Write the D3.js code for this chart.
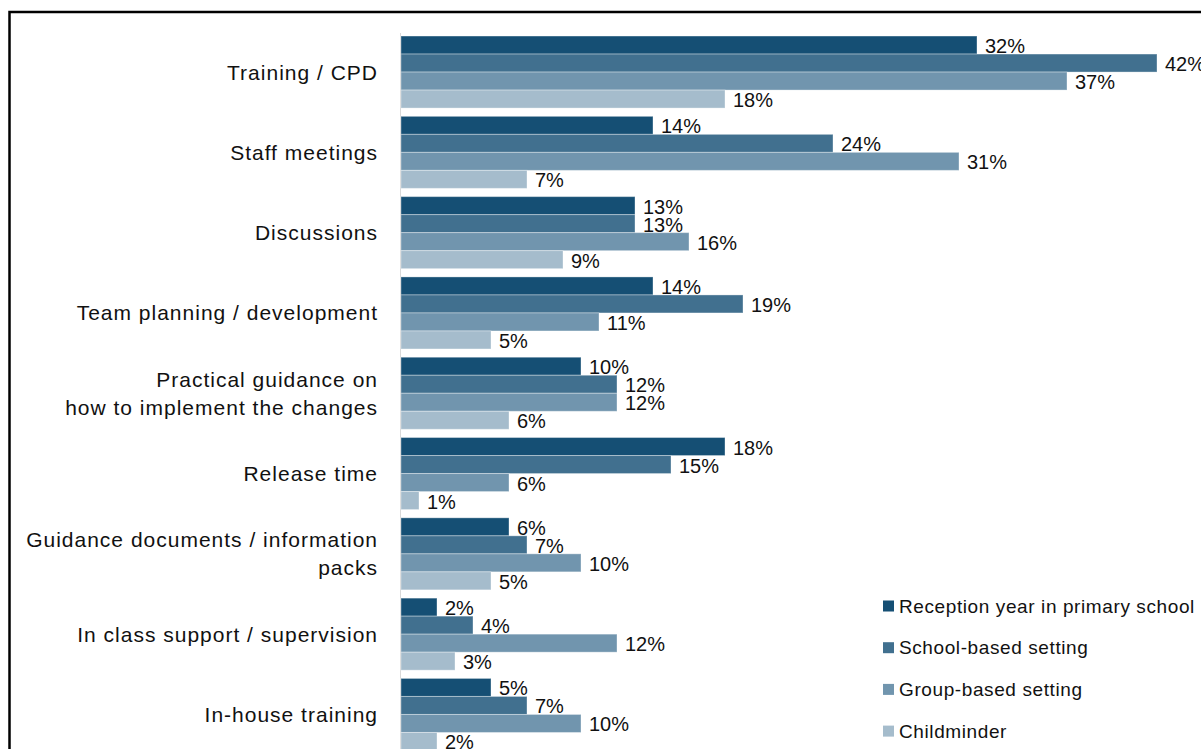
<!DOCTYPE html>
<html>
<head>
<meta charset="utf-8">
<script src="https://cdn.jsdelivr.net/npm/d3@7"></script>
<style>
  body { margin: 0; background: #fff; }
  text { font-family: "Liberation Sans", Arial, sans-serif; fill: #111; }
</style>
</head>
<body>
<div id="chart"></div>
<script>
// categories (label lines) and series
var categories = [
  ["Training / CPD"],
  ["Staff meetings"],
  ["Discussions"],
  ["Team planning / development"],
  ["Practical guidance on", "how to implement the changes"],
  ["Release time"],
  ["Guidance documents / information", "packs"],
  ["In class support / supervision"],
  ["In-house training"]
]
var seriesNames = ["Reception year in primary school", "School-based setting", "Group-based setting", "Childminder"]
var reception = [32, 14, 13, 14, 10, 18, 6, 2, 5]
var schoolBased = [42, 24, 13, 19, 12, 15, 7, 4, 7]
var groupBased = [37, 31, 16, 11, 12, 6, 10, 12, 10]
var childminder = [18, 7, 9, 5, 6, 1, 5, 3, 2]
var colors = ["#154f74", "#41708f", "#7195ae", "#a5bccc"]

var allSeries = [reception, schoolBased, groupBased, childminder]
var W = 1201, H = 749

var svg = d3.select("#chart").append("svg")
  .attr("width", W)
  .attr("height", H)

// frame (cut off at right and bottom like the original)
svg.append("path")
  .attr("d", "M9.5," + (H + 5) + " V12 H" + (W + 5))
  .attr("fill", "none")
  .attr("stroke", "#000")
  .attr("stroke-width", 2.5)

var x = d3.scaleLinear()
  .domain([0, 42])
  .range([401, 401 + 42 * 18])

var y = d3.scaleBand()
  .domain(d3.range(categories.length))
  .range([31.9, 31.9 + categories.length * 80.3])
  .paddingInner(0.103)
  .paddingOuter(0.0515)

var ySub = d3.scaleBand()
  .domain(d3.range(seriesNames.length))
  .range([0, y.bandwidth()])

// axis line
svg.append("line")
  .attr("x1", x(0) - 0.5).attr("x2", x(0) - 0.5)
  .attr("y1", 33).attr("y2", H)
  .attr("stroke", "#d9d9d9")
  .attr("stroke-width", 1)

var groups = svg.selectAll("g.grp")
  .data(categories)
  .enter()
  .append("g")
  .attr("class", "grp")
  .attr("transform", function (d, i) { return "translate(0," + y(i) + ")"; })

groups.each(function (cat, ci) {
  var g = d3.select(this)
  allSeries.forEach(function (s, si) {
    g.append("rect")
      .attr("x", x(0))
      .attr("y", ySub(si))
      .attr("width", x(s[ci]) - x(0))
      .attr("height", ySub.bandwidth())
      .attr("fill", colors[si])
      .attr("stroke", "rgba(255,255,255,0.35)")
      .attr("stroke-width", 1)
    g.append("text")
      .attr("x", x(s[ci]) + 8)
      .attr("y", ySub(si) + ySub.bandwidth() / 2 + 1)
      .attr("dominant-baseline", "central")
      .attr("font-size", 20)
      .text(s[ci] + "%")
  })
  // category label
  var lh = 28
  var lab = g.append("text")
    .attr("x", 378)
    .attr("text-anchor", "end")
    .attr("font-size", 21)
    .attr("letter-spacing", "1px")
  cat.forEach(function (line, li) {
    lab.append("tspan")
      .attr("x", 378)
      .attr("y", y.bandwidth() / 2 + (li - (cat.length - 1) / 2) * lh)
      .attr("dominant-baseline", "central")
      .text(line)
  })
})

// legend
var legend = svg.append("g")
  .attr("transform", "translate(883,606)")
seriesNames.forEach(function (name, i) {
  var row = legend.append("g").attr("transform", "translate(0," + (i * 41.7) + ")")
  row.append("rect")
    .attr("x", 0).attr("y", -5.5)
    .attr("width", 11).attr("height", 11)
    .attr("fill", colors[i])
  row.append("text")
    .attr("x", 16)
    .attr("y", 0)
    .attr("dominant-baseline", "central")
    .attr("font-size", 19)
    .attr("letter-spacing", "0.6px")
    .text(name)
})
</script>
</body>
</html>
